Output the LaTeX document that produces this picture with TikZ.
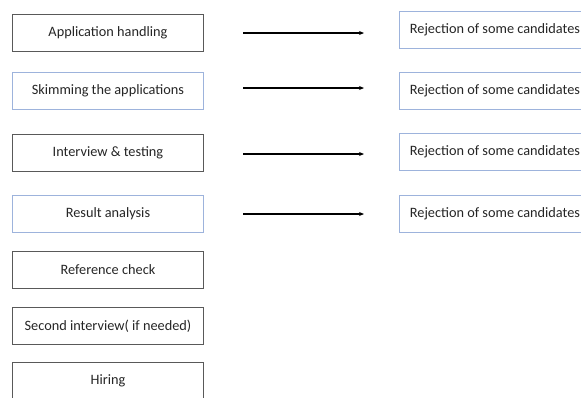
\documentclass[tikz,border=0pt]{standalone}
\usepackage{fontspec}
\setmainfont{Carlito}
\usetikzlibrary{arrows.meta}
\definecolor{boxgray}{HTML}{595959}
\definecolor{boxblue}{HTML}{9DB3DC}
\definecolor{txt}{HTML}{262626}
\tikzset{
  x=1pt, y=-1pt,
  stage/.style={draw=boxgray, line width=0.9pt, minimum width=191pt, minimum height=37pt, inner sep=0pt, font=\fontsize{14.3}{16}\selectfont, text=txt, anchor=north west, fill=white},
  bstage/.style={stage, draw=boxblue},
  flow/.style={-{Stealth[length=5pt,width=4pt]}, line width=1.1pt, black}
}
\begin{document}
\begin{tikzpicture}
\useasboundingbox (0,0) rectangle (581,397);
\clip (0,0) rectangle (581,397);
\node[stage]  (s1) at (12,14)  {Application handling};
\node[bstage] (s2) at (12,72)  {Skimming the applications};
\node[stage]  (s3) at (12,134) {Interview \& testing};
\node[bstage] (s4) at (12,195) {Result analysis};
\node[stage]  (s5) at (12,251) {Reference check};
\node[stage]  (s6) at (12,307) {Second interview( if needed)};
\node[stage]  (s7) at (12,362) {Hiring};
\node[bstage] (r1) at (399,11)  {Rejection of some candidates};
\node[bstage] (r2) at (399,72)  {Rejection of some candidates};
\node[bstage] (r3) at (399,133) {Rejection of some candidates};
\node[bstage] (r4) at (399,195) {Rejection of some candidates};
\coordinate (a1) at (243,33);  \coordinate (b1) at (364,33);
\coordinate (a2) at (243,88);  \coordinate (b2) at (364,88);
\coordinate (a3) at (243,154); \coordinate (b3) at (364,154);
\coordinate (a4) at (243,214); \coordinate (b4) at (364,214);
\draw[flow] (a1) -- (b1);
\draw[flow] (a2) -- (b2);
\draw[flow] (a3) -- (b3);
\draw[flow] (a4) -- (b4);
\end{tikzpicture}
\end{document}
